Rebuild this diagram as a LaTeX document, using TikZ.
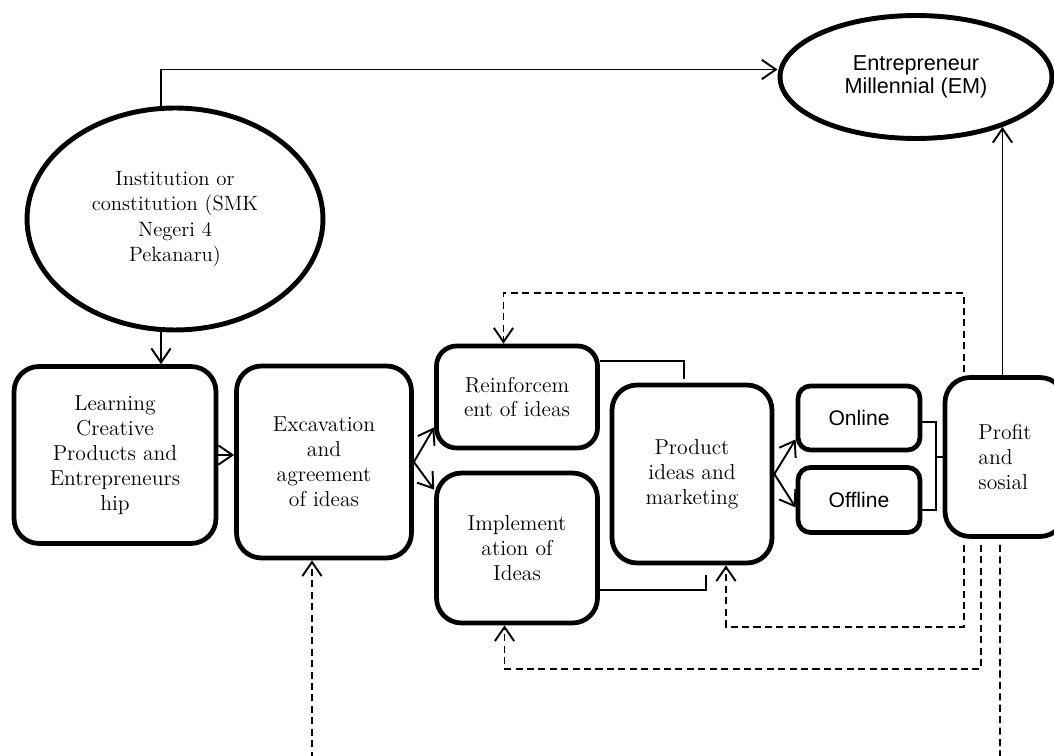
\documentclass[tikz,border=0pt]{standalone}
\usepackage{fontspec}
\newfontfamily\arialfont{Liberation Sans}
\usetikzlibrary{arrows.meta,shapes.geometric}

\begin{document}
\begin{tikzpicture}[
  x=0.02cm, y=-0.02cm,
  every node/.style = {font=\fontsize{12.3}{14.2}\selectfont, align=center, inner sep=0pt},
  stage/.style      = {draw, line width=2.7pt, rounded corners=0.5cm},
  chan/.style       = {draw, line width=2.7pt, rounded corners=0.25cm,
                       font=\arialfont\fontsize{12}{13}\selectfont},
  oval/.style       = {draw, ellipse, line width=2.8pt},
  link/.style       = {line width=1.1pt, -{Straight Barb[length=8pt,width=11pt]}},
  joint/.style      = {line width=1pt},
  feedback/.style   = {line width=1.1pt, dash pattern=on 4pt off 2.5pt,
                       -{Straight Barb[length=8pt,width=11pt]}},
]

%% ── Frame (1 unit = 1 px of the 1054 x 756 sheet) ───────────────────────────
\useasboundingbox (0,0) rectangle (1054,756);

%% ── Ovals ────────────────────────────────────────────────────────────────────
\node[oval, minimum width=5.92cm, minimum height=4.44cm,
      font=\fontsize{11.8}{14.4}\selectfont] (inst) at (175,219)
  {Institution or\\constitution (SMK\\Negeri 4\\Pekanaru)};
\node[oval, minimum width=5.44cm, minimum height=2.46cm,
      font=\arialfont\fontsize{12.3}{13.3}\selectfont] (em) at (916,77)
  {Entrepreneur\\Millennial (EM)};

%% ── Stages ───────────────────────────────────────────────────────────────────
\node[stage, minimum width=4.04cm, minimum height=3.54cm] (learn) at (115,455)
  {Learning\\Creative\\Products and\\Entrepreneurs\\hip};
\node[stage, minimum width=3.5cm, minimum height=3.84cm] (exc) at (324,462)
  {Excavation\\and\\agreement\\of ideas};
\node[stage, rounded corners=0.4cm, minimum width=3.22cm, minimum height=2.04cm]
  (reinf) at (517,397) {Reinforcem\\ent of ideas};
\node[stage, minimum width=3.22cm, minimum height=3.0cm] (impl) at (517,548)
  {Implement\\ation of\\Ideas};
\node[stage, minimum width=3.2cm, minimum height=3.56cm] (prod) at (692,474)
  {Product\\ideas and\\marketing};
\node[chan, minimum width=2.44cm, minimum height=1.28cm] (online) at (859,418)
  {Online};
\node[chan, minimum width=2.44cm, minimum height=1.3cm] (offline) at (859,500)
  {Offline};
\node[stage, minimum width=2.4cm, minimum height=3.18cm, align=left]
  (profit) at (1005,457) {Profit\\and\\sosial};

%% ── Main flow ────────────────────────────────────────────────────────────────
\draw[link] ([xshift=-0.28cm]inst.north) |- ([yshift=0.15cm]em.west);
\draw[link] ([xshift=-0.28cm]inst.south) -- ([xshift=-0.28cm]inst.south |- learn.north);
\draw[link] (learn.east) -- (learn.east -| exc.west);
\draw[link] (exc.east) -- ([yshift=0.46cm]reinf.south west);
\draw[link] (exc.east) -- ([yshift=-0.38cm]impl.north west);

% joints into product box (no tips)
\draw[joint] ([yshift=-0.34cm]reinf.north east) -| ([xshift=-0.16cm,yshift=0.08cm]prod.north);
\draw[joint] ([yshift=0.7cm]impl.south east) -| ([xshift=0.28cm,yshift=-0.2cm]prod.south);

\draw[link] (prod.east) -- ([yshift=0.26cm]online.south west);
\draw[link] (prod.east) -- ([yshift=-0.15cm]offline.west);

% online / offline bracket
\draw[joint] ([yshift=-0.08cm]online.east) -- ++(14,0) coordinate (brk)
  |- ([yshift=-0.2cm]offline.east);
\draw[joint] (brk |- profit.west) -- (profit.west);

\draw[link] (profit.north -| em.-30) -- (em.-30);

%% ── Feedback (dashed) ────────────────────────────────────────────────────────
\coordinate (outL) at (312,770);
\coordinate (outR) at (1000,770);

\draw[feedback] ([xshift=-0.82cm,yshift=0.06cm]profit.north) -- ++(0,-79)
  -| ([xshift=-0.27cm]reinf.north);
\draw[feedback] ([xshift=-0.82cm,yshift=-0.12cm]profit.south) -- ++(0,82)
  -| ([xshift=0.68cm]prod.south);
\draw[feedback] ([xshift=-0.48cm,yshift=-0.12cm]profit.south) -- ++(0,124)
  -| ([xshift=-0.25cm]impl.south);
\draw[feedback, -] ([xshift=-0.1cm,yshift=-0.12cm]profit.south) -- (outR);
\draw[feedback] (outL) -- (outL |- exc.south);

\end{tikzpicture}
\end{document}
